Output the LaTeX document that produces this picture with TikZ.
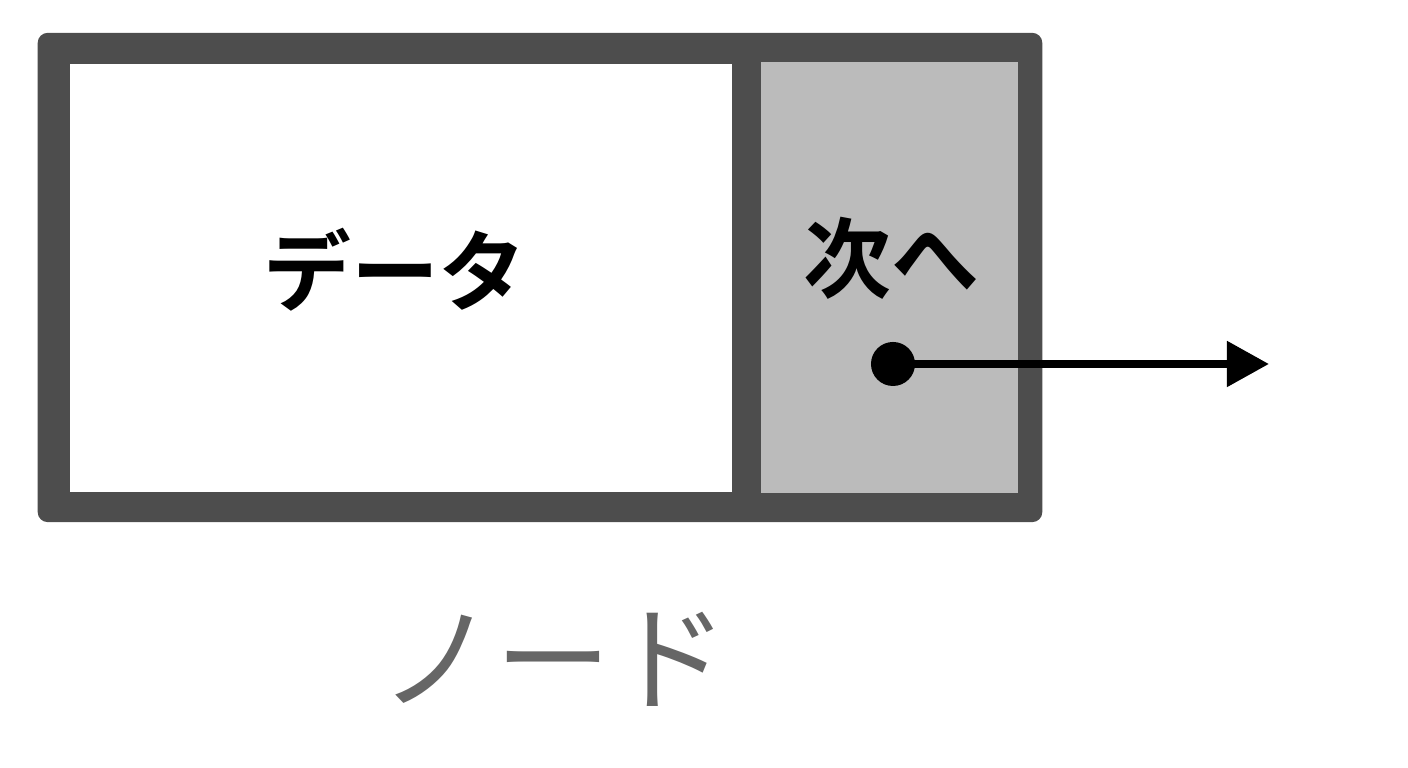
\documentclass[tikz,border=0pt]{standalone}
\usepackage{xcolor}
\usepackage{fontspec}
\usetikzlibrary{arrows.meta}
\newfontfamily\jpfont{Noto Sans CJK JP}
\newfontfamily\jpbold{Noto Sans CJK JP Bold}
\definecolor{framegray}{HTML}{4D4D4D}
\definecolor{cellgray}{HTML}{BBBBBB}
\definecolor{labelgray}{HTML}{666666}

\begin{document}
\begin{tikzpicture}[x=0.01cm,y=-0.01cm,>={Triangle[length=0.42cm,width=0.44cm]},line width=2.3pt]
  \tikzstyle{cell}=[draw=none,inner sep=0pt,outer sep=0pt]
  \tikzstyle{celltext}=[font=\jpbold\fontsize{25pt}{25pt}\selectfont,text=black]

  \useasboundingbox (0,0) rectangle (1408,768);

  \node[cell,fill=framegray,rounded corners=0.1cm,minimum width=10.04cm,minimum height=4.89cm] (frame) at (540,277.5) {};
  \node[cell,fill=white,minimum width=6.62cm,minimum height=4.28cm]   (data) at (401,278) {};
  \node[cell,fill=cellgray,minimum width=2.57cm,minimum height=4.31cm] (next) at (889.5,277.5) {};

  \node[celltext] (datalabel) at (395,270) {データ};
  \node[celltext] (nextlabel) at (891,258) {次へ};
  \node[font=\jpfont\fontsize{33pt}{33pt}\selectfont,text=labelgray] (nodelabel) at (554,659) {ノード};

  \node[cell,circle,fill=black,minimum size=0.44cm] (ptr) at (893,364) {};
  \coordinate (tip) at (1269,364);

  \draw[->] (ptr.center) -- (tip);
\end{tikzpicture}
\end{document}
